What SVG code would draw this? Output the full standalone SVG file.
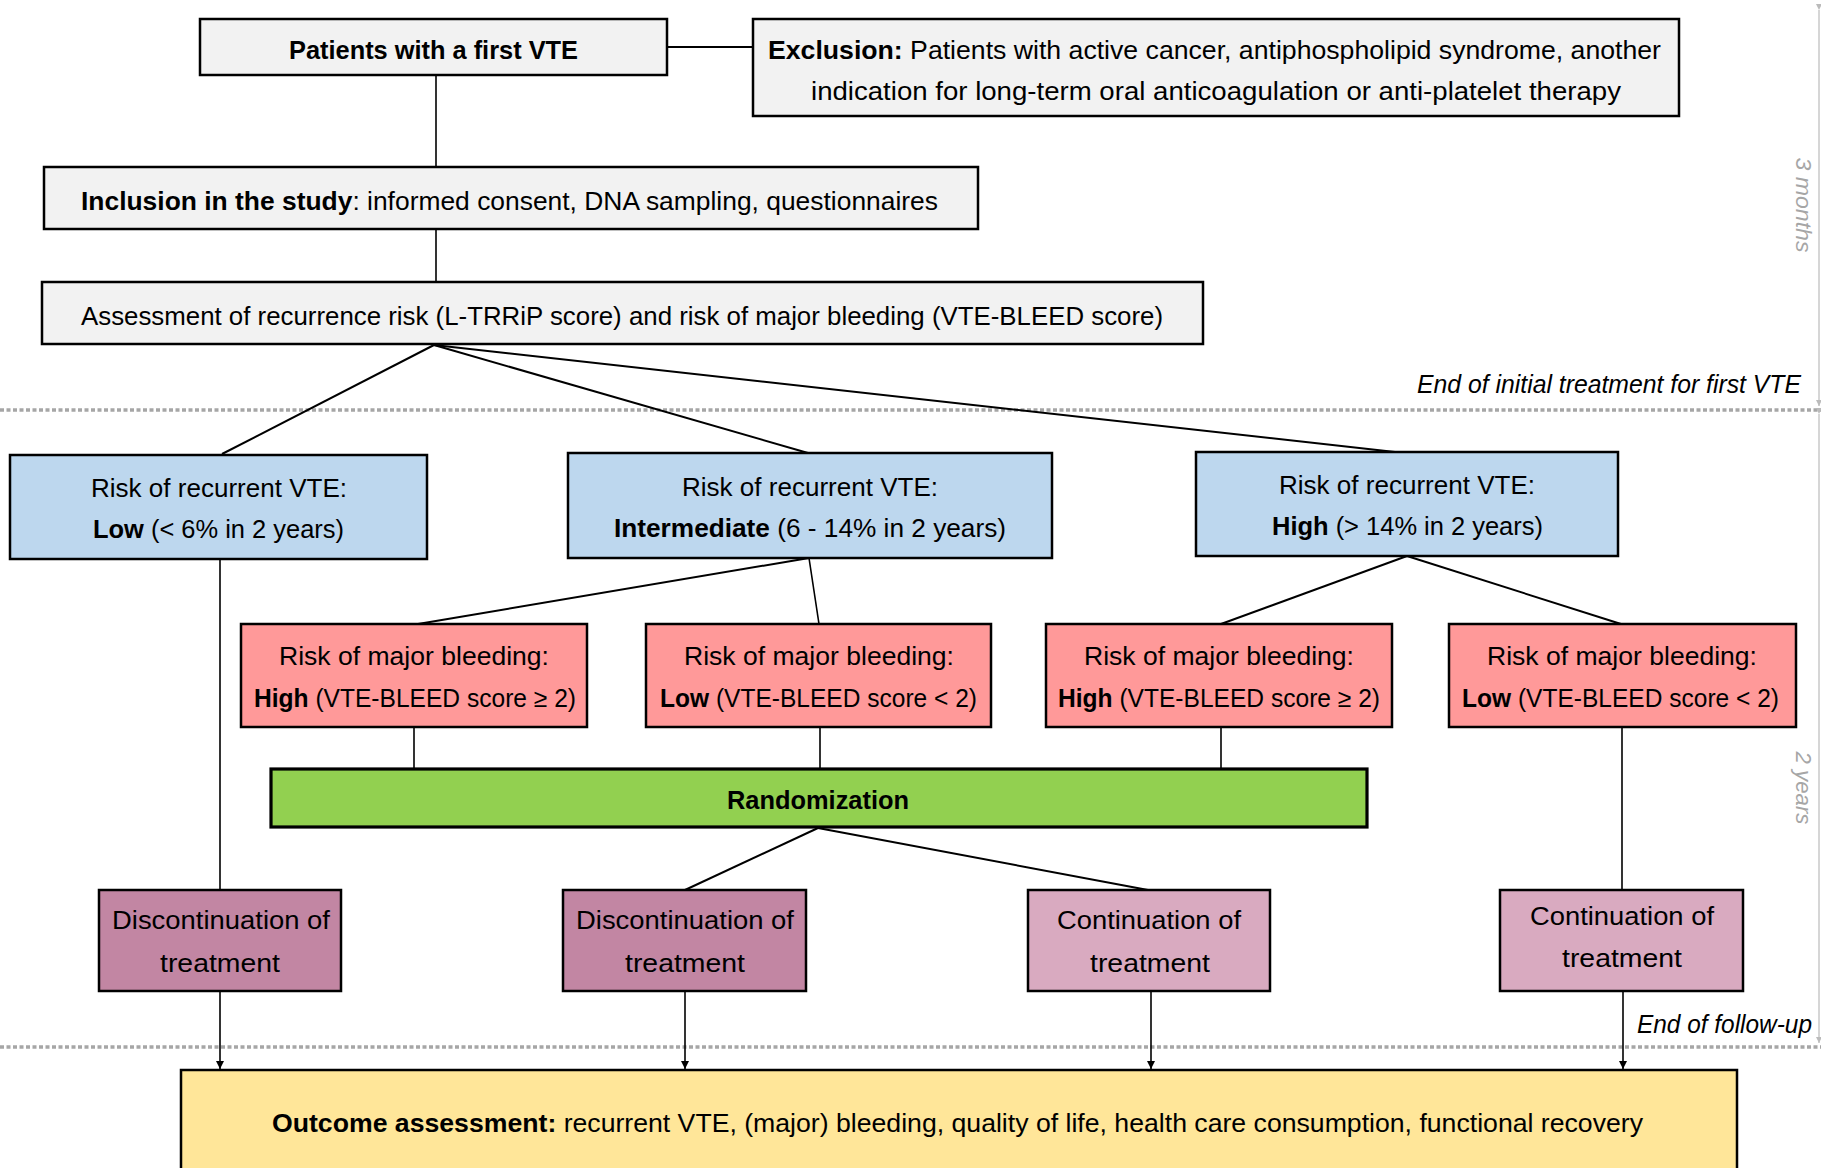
<svg xmlns="http://www.w3.org/2000/svg" width="1821" height="1168" viewBox="0 0 1821 1168">
<defs>
<style>
text{font-family:"Liberation Sans",Arial,sans-serif;font-size:25.5px;fill:#000}
.b{font-weight:bold}
.it{font-style:italic;font-size:25px}
.side{font-style:italic;font-size:22px;fill:#a6a6a6}
.box{stroke:#000;stroke-width:2.5}
.gray{fill:#f2f2f2}
.blue{fill:#bdd7ee}
.red{fill:#ff9999}
.green{fill:#92d050;stroke-width:3.2}
.dpur{fill:#c286a3}
.lpur{fill:#d9aac0}
.yel{fill:#ffe699}
.ln{stroke:#000;stroke-width:2;fill:none}
.thin{stroke:#000;stroke-width:1.6;fill:none}
.dot{stroke:#a6a6a6;stroke-width:3.5;stroke-dasharray:4 2.5;fill:none}
.edge{stroke:#c8c8c8;stroke-width:1.5;fill:none}
</style>
<marker id="arr" viewBox="0 0 10 10" refX="10" refY="5" markerWidth="8" markerHeight="8" markerUnits="userSpaceOnUse" orient="auto">
<path d="M0,0 L10,5 L0,10 z" fill="#000"/>
</marker>
<marker id="garr" viewBox="0 0 10 10" refX="10" refY="5" markerWidth="6" markerHeight="6" markerUnits="userSpaceOnUse" orient="auto">
<path d="M0,0 L10,5 L0,10 z" fill="#bbb"/>
</marker>
</defs>
<rect width="1821" height="1168" fill="#fff"/>

<!-- timeline separators -->
<g id="timeline">
<line class="dot" x1="0" y1="410" x2="1821" y2="410"/>
<line class="dot" x1="0" y1="1047" x2="1821" y2="1047"/>
<line class="edge" x1="1819" y1="10" x2="1819" y2="406" marker-end="url(#garr)" marker-start="url(#garr)"/>
<line class="edge" x1="1819" y1="414" x2="1819" y2="1043" marker-end="url(#garr)" marker-start="url(#garr)"/>
<text class="it" x="1417" y="393" textLength="384" lengthAdjust="spacingAndGlyphs">End of initial treatment for first VTE</text>
<text class="it" x="1637" y="1033" textLength="175" lengthAdjust="spacingAndGlyphs">End of follow-up</text>
<text class="side" text-anchor="middle" transform="translate(1796,205) rotate(90)" textLength="95" lengthAdjust="spacingAndGlyphs">3 months</text>
<text class="side" text-anchor="middle" transform="translate(1796,788) rotate(90)" textLength="73" lengthAdjust="spacingAndGlyphs">2 years</text>
</g>

<!-- connectors -->
<g id="connectors">
<line class="ln" x1="667" y1="47" x2="753" y2="47"/>
<line class="thin" x1="436" y1="75" x2="436" y2="167"/>
<line class="thin" x1="436" y1="229" x2="436" y2="282"/>
<line class="ln" x1="434" y1="345" x2="222" y2="454"/>
<line class="ln" x1="434" y1="345" x2="808" y2="453"/>
<line class="ln" x1="434" y1="345" x2="1395" y2="452"/>
<line class="thin" x1="220" y1="559" x2="220" y2="890"/>
<line class="ln" x1="809" y1="558" x2="418" y2="624"/>
<line class="thin" x1="809" y1="558" x2="819" y2="624"/>
<line class="ln" x1="1407" y1="556" x2="1221" y2="624"/>
<line class="ln" x1="1407" y1="556" x2="1621" y2="624"/>
<line class="thin" x1="414" y1="727" x2="414" y2="769"/>
<line class="thin" x1="820" y1="727" x2="820" y2="769"/>
<line class="thin" x1="1221" y1="727" x2="1221" y2="769"/>
<line class="thin" x1="1622" y1="727" x2="1622" y2="890"/>
<line class="ln" x1="818" y1="828" x2="685" y2="890"/>
<line class="ln" x1="818" y1="828" x2="1148" y2="890"/>
<line class="thin" x1="220" y1="991" x2="220" y2="1069" marker-end="url(#arr)"/>
<line class="thin" x1="685" y1="991" x2="685" y2="1069" marker-end="url(#arr)"/>
<line class="thin" x1="1151" y1="991" x2="1151" y2="1069" marker-end="url(#arr)"/>
<line class="thin" x1="1623" y1="991" x2="1623" y2="1069" marker-end="url(#arr)"/>
</g>

<g id="patients">
<rect class="box gray" x="200" y="19" width="467" height="56"/>
<text class="b" x="289" y="59" textLength="289" lengthAdjust="spacingAndGlyphs">Patients with a first VTE</text>
</g>

<g id="exclusion">
<rect class="box gray" x="753" y="19" width="926" height="97"/>
<text x="768" y="59" textLength="893" lengthAdjust="spacingAndGlyphs"><tspan class="b">Exclusion:</tspan> Patients with active cancer, antiphospholipid syndrome, another</text>
<text x="811" y="100" textLength="810" lengthAdjust="spacingAndGlyphs">indication for long-term oral anticoagulation or anti-platelet therapy</text>
</g>

<g id="inclusion">
<rect class="box gray" x="44" y="167" width="934" height="62"/>
<text x="81" y="210" textLength="857" lengthAdjust="spacingAndGlyphs"><tspan class="b">Inclusion in the study</tspan>: informed consent, DNA sampling, questionnaires</text>
</g>

<g id="assessment">
<rect class="box gray" x="42" y="282" width="1161" height="62"/>
<text x="81" y="325" textLength="1082" lengthAdjust="spacingAndGlyphs">Assessment of recurrence risk (L-TRRiP score) and risk of major bleeding (VTE-BLEED score)</text>
</g>

<g id="vte-low">
<rect class="box blue" x="10" y="455" width="417" height="104"/>
<text x="91" y="497" textLength="256" lengthAdjust="spacingAndGlyphs">Risk of recurrent VTE:</text>
<text x="93" y="538" textLength="251" lengthAdjust="spacingAndGlyphs"><tspan class="b">Low</tspan> (&lt; 6% in 2 years)</text>
</g>

<g id="vte-intermediate">
<rect class="box blue" x="568" y="453" width="484" height="105"/>
<text x="682" y="496" textLength="256" lengthAdjust="spacingAndGlyphs">Risk of recurrent VTE:</text>
<text x="614" y="537" textLength="392" lengthAdjust="spacingAndGlyphs"><tspan class="b">Intermediate</tspan> (6 - 14% in 2 years)</text>
</g>

<g id="vte-high">
<rect class="box blue" x="1196" y="452" width="422" height="104"/>
<text x="1279" y="494" textLength="256" lengthAdjust="spacingAndGlyphs">Risk of recurrent VTE:</text>
<text x="1272" y="535" textLength="271" lengthAdjust="spacingAndGlyphs"><tspan class="b">High</tspan> (&gt; 14% in 2 years)</text>
</g>

<g id="bleed-1">
<rect class="box red" x="241" y="624" width="346" height="103"/>
<text x="279" y="665" textLength="270" lengthAdjust="spacingAndGlyphs">Risk of major bleeding:</text>
<text x="254" y="707" textLength="322" lengthAdjust="spacingAndGlyphs"><tspan class="b">High</tspan> (VTE-BLEED score ≥ 2)</text>
</g>

<g id="bleed-2">
<rect class="box red" x="646" y="624" width="345" height="103"/>
<text x="684" y="665" textLength="270" lengthAdjust="spacingAndGlyphs">Risk of major bleeding:</text>
<text x="660" y="707" textLength="317" lengthAdjust="spacingAndGlyphs"><tspan class="b">Low</tspan> (VTE-BLEED score &lt; 2)</text>
</g>

<g id="bleed-3">
<rect class="box red" x="1046" y="624" width="346" height="103"/>
<text x="1084" y="665" textLength="270" lengthAdjust="spacingAndGlyphs">Risk of major bleeding:</text>
<text x="1058" y="707" textLength="322" lengthAdjust="spacingAndGlyphs"><tspan class="b">High</tspan> (VTE-BLEED score ≥ 2)</text>
</g>

<g id="bleed-4">
<rect class="box red" x="1449" y="624" width="347" height="103"/>
<text x="1487" y="665" textLength="270" lengthAdjust="spacingAndGlyphs">Risk of major bleeding:</text>
<text x="1462" y="707" textLength="317" lengthAdjust="spacingAndGlyphs"><tspan class="b">Low</tspan> (VTE-BLEED score &lt; 2)</text>
</g>

<g id="randomization">
<rect class="box green" x="271" y="769" width="1096" height="58"/>
<text class="b" x="727" y="809" textLength="182" lengthAdjust="spacingAndGlyphs">Randomization</text>
</g>

<g id="disc-1">
<rect class="box dpur" x="99" y="890" width="242" height="101"/>
<text x="112" y="929" textLength="218" lengthAdjust="spacingAndGlyphs">Discontinuation of</text>
<text x="160" y="972" textLength="120" lengthAdjust="spacingAndGlyphs">treatment</text>
</g>

<g id="disc-2">
<rect class="box dpur" x="563" y="890" width="243" height="101"/>
<text x="576" y="929" textLength="218" lengthAdjust="spacingAndGlyphs">Discontinuation of</text>
<text x="625" y="972" textLength="120" lengthAdjust="spacingAndGlyphs">treatment</text>
</g>

<g id="cont-1">
<rect class="box lpur" x="1028" y="890" width="242" height="101"/>
<text x="1057" y="929" textLength="184" lengthAdjust="spacingAndGlyphs">Continuation of</text>
<text x="1090" y="972" textLength="120" lengthAdjust="spacingAndGlyphs">treatment</text>
</g>

<g id="cont-2">
<rect class="box lpur" x="1500" y="890" width="243" height="101"/>
<text x="1530" y="925" textLength="184" lengthAdjust="spacingAndGlyphs">Continuation of</text>
<text x="1562" y="967" textLength="120" lengthAdjust="spacingAndGlyphs">treatment</text>
</g>

<g id="outcome">
<rect class="box yel" x="181" y="1070" width="1556" height="130"/>
<text x="272" y="1132" textLength="1371" lengthAdjust="spacingAndGlyphs"><tspan class="b">Outcome assessment:</tspan> recurrent VTE, (major) bleeding, quality of life, health care consumption, functional recovery</text>
</g>
</svg>
